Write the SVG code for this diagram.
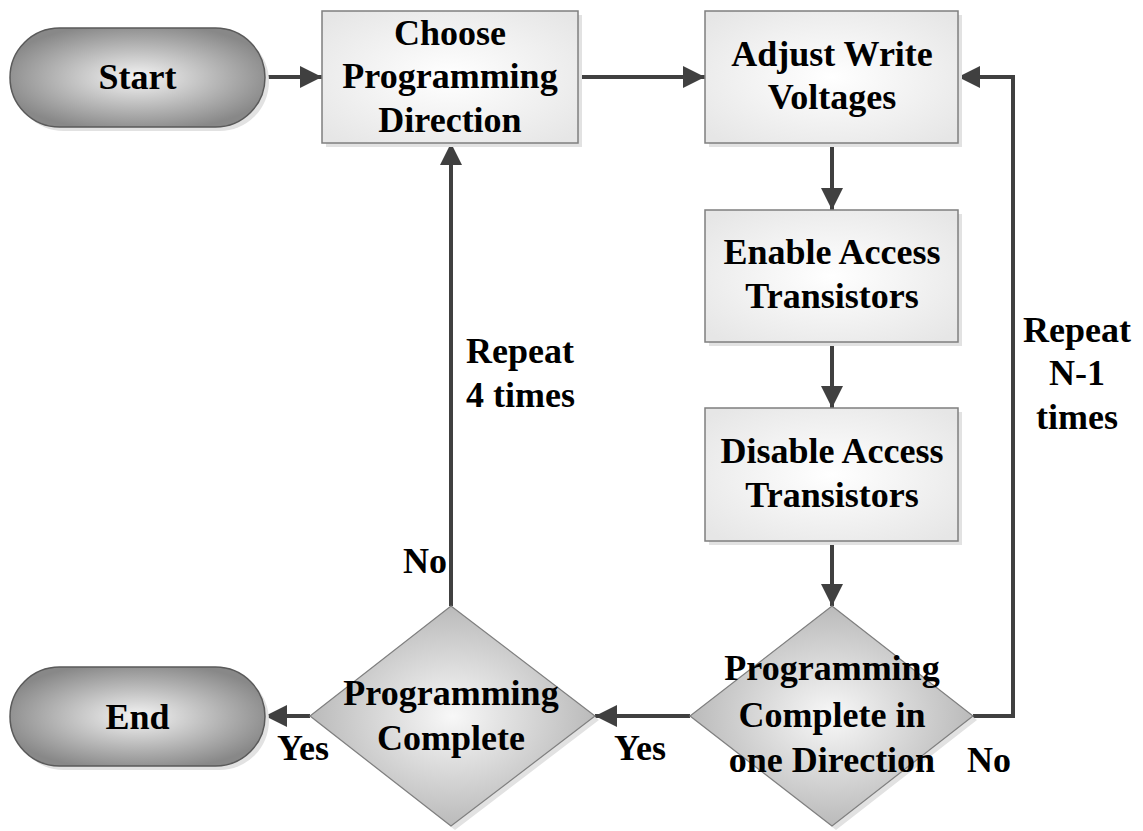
<svg xmlns="http://www.w3.org/2000/svg" width="1143" height="831" viewBox="0 0 1143 831">
  <defs>
    <radialGradient id="gBox" cx="50%" cy="50%" r="65%">
      <stop offset="0" stop-color="#ffffff"/>
      <stop offset="1" stop-color="#e6e6e6"/>
    </radialGradient>
    <radialGradient id="gPill" cx="50%" cy="50%" r="55%">
      <stop offset="0" stop-color="#f4f4f4"/>
      <stop offset="1" stop-color="#888888"/>
    </radialGradient>
    <radialGradient id="gDiamond" cx="50%" cy="50%" r="55%">
      <stop offset="0" stop-color="#f8f8f8"/>
      <stop offset="1" stop-color="#b4b4b4"/>
    </radialGradient>
    <marker id="arrow" markerUnits="userSpaceOnUse" markerWidth="22" markerHeight="22" viewBox="0 0 22 22" refX="22" refY="11" orient="auto">
      <path d="M0,0 L22,11 L0,22 Z" fill="#404040"/>
    </marker>
    <style>
      .box { fill: url(#gBox); stroke: #7f7f7f; stroke-width: 1.5; }
      .pill { fill: url(#gPill); stroke: #5a5a5a; stroke-width: 1.5; }
      .diamond { fill: url(#gDiamond); stroke: #7f7f7f; stroke-width: 1.2; }
      .shadow { fill: #e2e2e2; }
      .label { font-family: "Liberation Serif", "Times New Roman", serif; font-weight: bold; font-size: 36px; fill: #000; text-anchor: middle; }
      .note { font-family: "Liberation Serif", "Times New Roman", serif; font-weight: bold; font-size: 36px; fill: #000; }
      .wire { fill: none; stroke: #404040; stroke-width: 4; }
    </style>
  </defs>

  <rect width="1143" height="831" fill="#ffffff"/>

  <!-- connectors -->
  <g id="connectors">
    <path class="wire" d="M265,77 L322,77" marker-end="url(#arrow)"/>
    <path class="wire" d="M578,77 L705,77" marker-end="url(#arrow)"/>
    <path class="wire" d="M832,143 L832,210" marker-end="url(#arrow)"/>
    <path class="wire" d="M832,342 L832,408" marker-end="url(#arrow)"/>
    <path class="wire" d="M832,541 L832,606" marker-end="url(#arrow)"/>
    <path class="wire" d="M973,716 L1013,716 L1013,77 L958,77" marker-end="url(#arrow)"/>
    <path class="wire" d="M690,716 L595,716" marker-end="url(#arrow)"/>
    <path class="wire" d="M310,716 L265,716" marker-end="url(#arrow)"/>
    <path class="wire" d="M451,606 L451,143" marker-end="url(#arrow)"/>
  </g>

  <g id="start">
    <rect class="shadow" x="14" y="32" width="255" height="99" rx="49.5"/>
    <rect class="pill" x="10" y="28" width="255" height="99" rx="49.5"/>
    <text class="label" x="137.5" y="89">Start</text>
  </g>

  <g id="choose-direction">
    <rect class="shadow" x="326" y="15" width="256" height="132"/>
    <rect class="box" x="322" y="11" width="256" height="132"/>
    <text class="label" x="450" y="45">Choose</text>
    <text class="label" x="450" y="88">Programming</text>
    <text class="label" x="450" y="132">Direction</text>
  </g>

  <g id="adjust-voltages">
    <rect class="shadow" x="709" y="15" width="253" height="132"/>
    <rect class="box" x="705" y="11" width="253" height="132"/>
    <text class="label" x="832" y="66">Adjust Write</text>
    <text class="label" x="832" y="109">Voltages</text>
  </g>

  <g id="enable-access">
    <rect class="shadow" x="709" y="214" width="253" height="132"/>
    <rect class="box" x="705" y="210" width="253" height="132"/>
    <text class="label" x="832" y="264">Enable Access</text>
    <text class="label" x="832" y="308">Transistors</text>
  </g>

  <g id="disable-access">
    <rect class="shadow" x="709" y="412" width="253" height="133"/>
    <rect class="box" x="705" y="408" width="253" height="133"/>
    <text class="label" x="832" y="463">Disable Access</text>
    <text class="label" x="832" y="507">Transistors</text>
  </g>

  <g id="direction-complete">
    <polygon class="shadow" points="836,610 977,720 836,830 694,720"/>
    <polygon class="diamond" points="832,606 973,716 832,826 690,716"/>
    <text class="label" x="832" y="680">Programming</text>
    <text class="label" x="832" y="727">Complete in</text>
    <text class="label" x="832" y="772">one Direction</text>
  </g>

  <g id="programming-complete">
    <polygon class="shadow" points="455,610 599,720 455,830 314,720"/>
    <polygon class="diamond" points="451,606 595,716 451,826 310,716"/>
    <text class="label" x="451" y="705">Programming</text>
    <text class="label" x="451" y="750">Complete</text>
  </g>

  <g id="end">
    <rect class="shadow" x="14" y="671" width="255" height="99" rx="49.5"/>
    <rect class="pill" x="10" y="667" width="255" height="99" rx="49.5"/>
    <text class="label" x="137.5" y="729">End</text>
  </g>

  <g id="edge-labels">
    <text class="note" x="466" y="363">Repeat</text>
    <text class="note" x="466" y="407">4 times</text>
    <text class="note" x="447" y="573" text-anchor="end">No</text>
    <text class="note" x="277" y="760">Yes</text>
    <text class="note" x="614" y="760">Yes</text>
    <text class="note" x="967" y="772">No</text>
    <text class="note" x="1077" y="342" text-anchor="middle">Repeat</text>
    <text class="note" x="1077" y="385" text-anchor="middle">N-1</text>
    <text class="note" x="1077" y="429" text-anchor="middle">times</text>
  </g>
</svg>
